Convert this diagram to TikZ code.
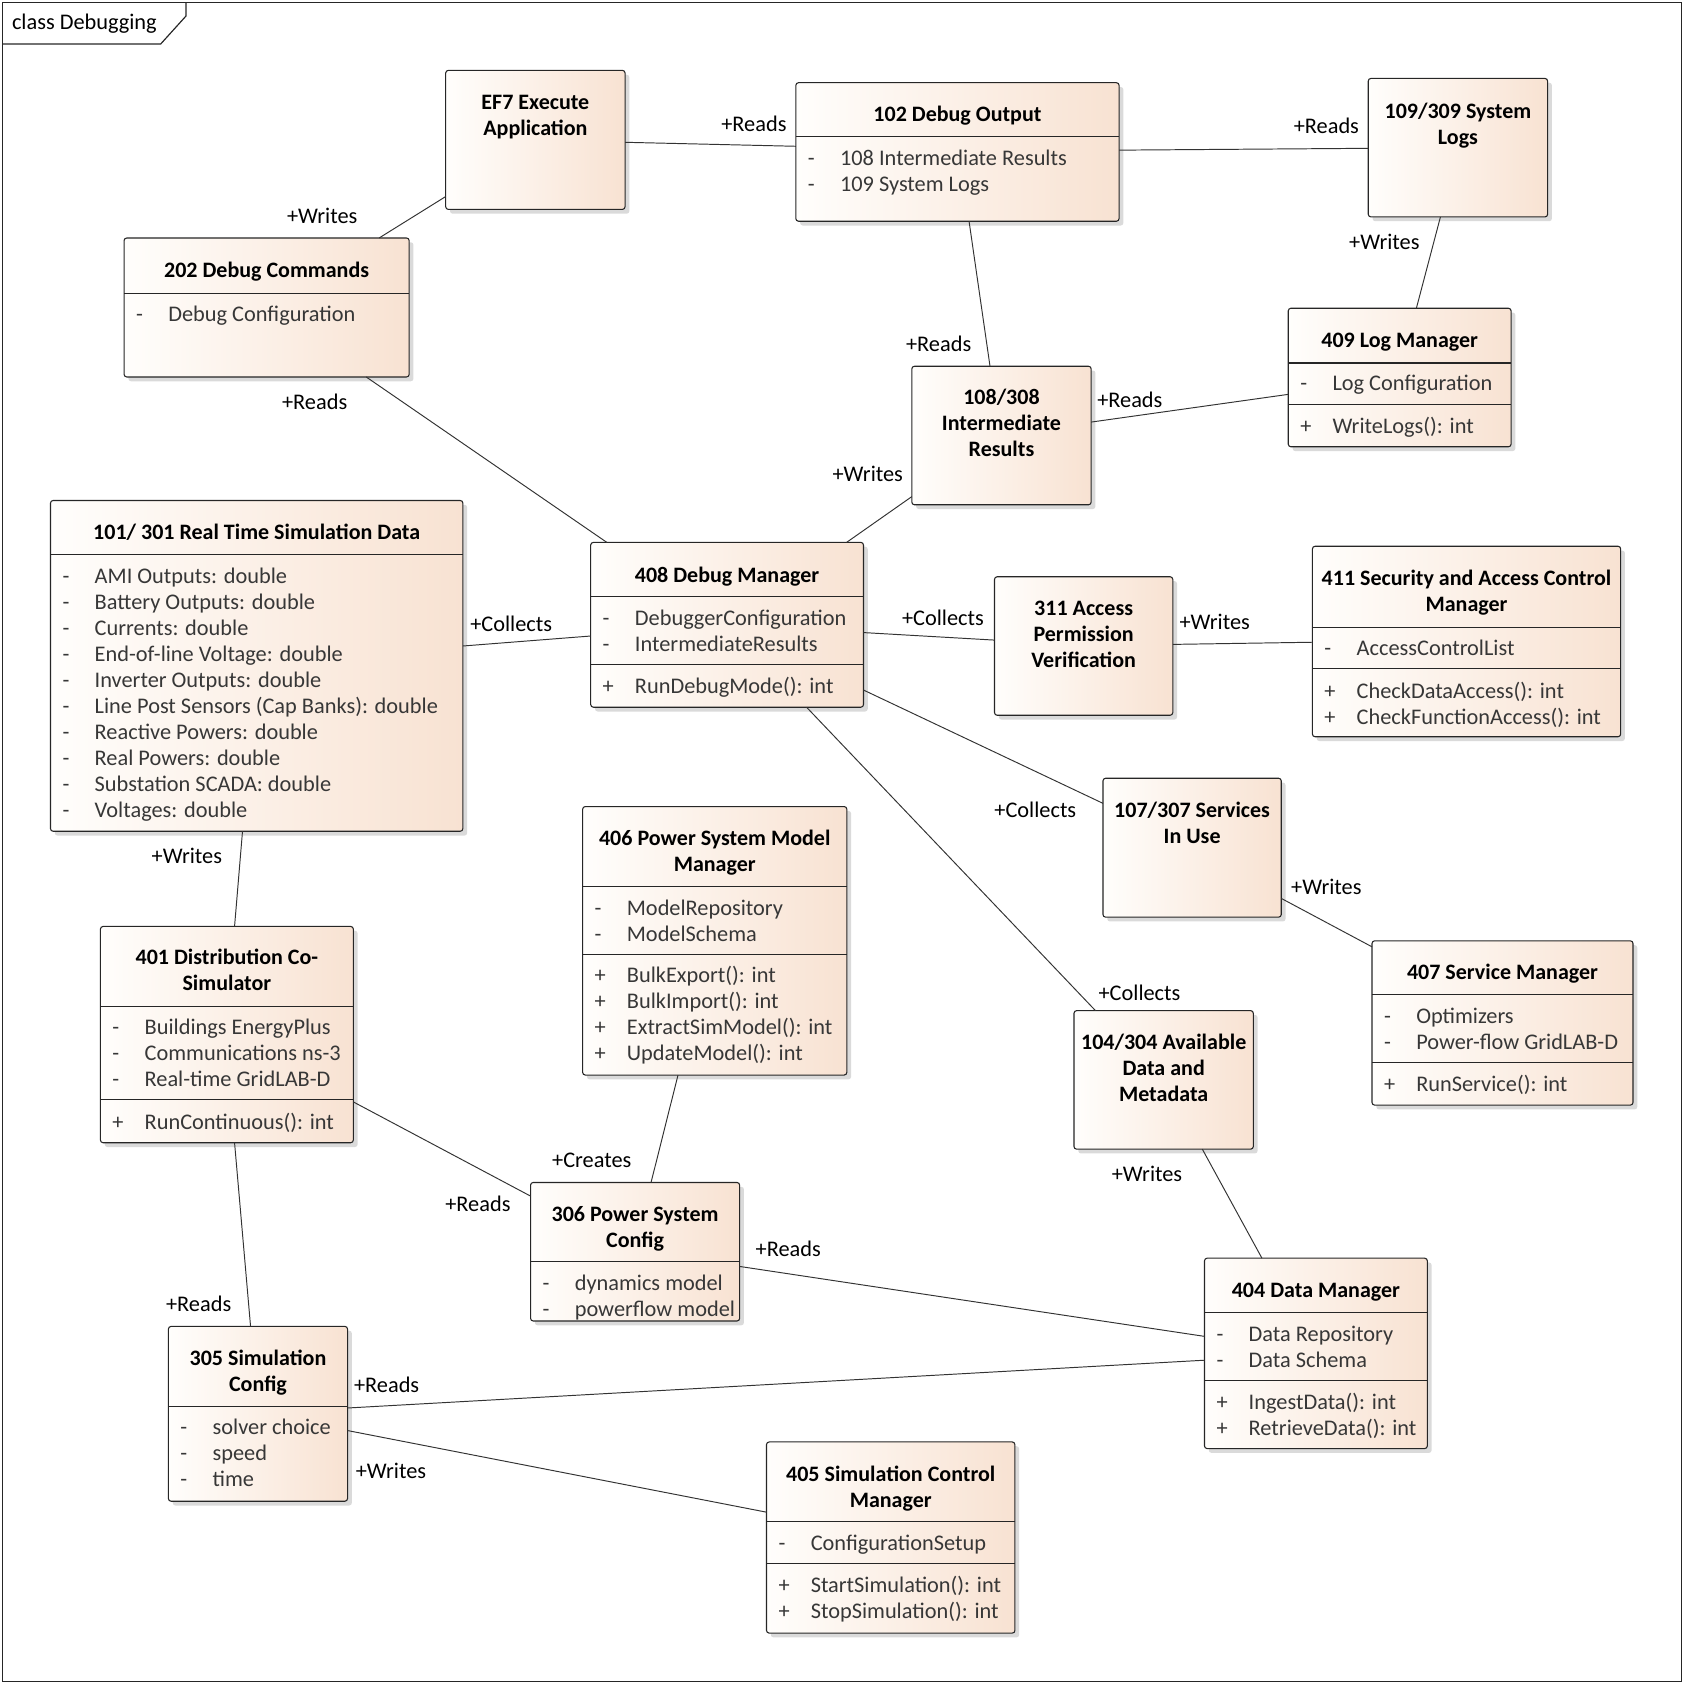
\documentclass[tikz,border=0pt]{standalone}
\usepackage{fontspec}
\setmainfont{Carlito}
\usetikzlibrary{shadows}
\definecolor{boxL}{RGB}{255,254,252}
\definecolor{boxR}{RGB}{248,226,210}
\definecolor{attrc}{RGB}{55,55,55}
\definecolor{shadowc}{RGB}{218,218,218}
\newcommand{\ufont}{\fontsize{20.5}{24.2}\selectfont}
\newcommand{\rfont}{\fontsize{20.8}{24.2}\selectfont}
\newcommand{\alist}[5]{%
  \node[attr] (#1d) at (#2,#3) {\begin{tabular}[t]{@{}l@{}}#4\end{tabular}};
  \node[attr] (#1t) at (#2+30,#3) {\begin{tabular}[t]{@{}l@{}}#5\end{tabular}};}
\newcommand{\tl}[4]{\node[ttl] (#1) at (#2,#3) {\begin{tabular}[t]{@{}c@{}}#4\end{tabular}};}
\begin{document}
\begin{tikzpicture}[x=1pt,y=-1pt,
 umlbox/.style={draw=black!85, line width=1pt, rounded corners=2.5pt, left color=boxL, right color=boxR, inner sep=0pt, outer sep=0pt, anchor=north west, drop shadow={shadow xshift=4pt, shadow yshift=-4pt, fill=shadowc, opacity=1}},
 ttl/.style={anchor=base, inner sep=0pt, font=\ufont\bfseries, text=black},
 attr/.style={anchor=base west, inner sep=0pt, font=\rfont, text=attrc},
 lbl/.style={anchor=base, inner sep=0pt, font=\rfont, text=black},
 sep/.style={draw=black!85, line width=1pt},
 conn/.style={draw=black!80, line width=0.9pt}
]
\useasboundingbox (0,0) rectangle (1568,1568);
% frame
\draw[line width=1.1pt, black!85] (2,2) rectangle (1566,1566);
\draw[line width=1.1pt, black!85] (2,41) -- (149.6,41) -- (173.2,14.9) -- (173.2,2);
\node[anchor=base west, inner sep=0pt, font=\rfont] (frametitle) at (11,27.5) {class Debugging};

% boxes
\node[umlbox, minimum width=167pt, minimum height=129.5pt] (ef7) at (415,65.5) {};
\node[umlbox, minimum width=301pt, minimum height=129pt] (b102) at (741,77) {};
\node[umlbox, minimum width=167pt, minimum height=129pt] (b109) at (1274,73) {};
\node[umlbox, minimum width=265.5pt, minimum height=129.4pt] (b202) at (115.5,221.6) {};
\node[umlbox, minimum width=207.5pt, minimum height=129pt] (b409) at (1199.5,287) {};
\node[umlbox, minimum width=167pt, minimum height=129pt] (b108) at (849,341) {};
\node[umlbox, minimum width=384pt, minimum height=308pt] (b101) at (47,466) {};
\node[umlbox, minimum width=254pt, minimum height=153.5pt] (b408) at (550,505) {};
\node[umlbox, minimum width=166pt, minimum height=129pt] (b311) at (926,537) {};
\node[umlbox, minimum width=287pt, minimum height=177.4pt] (b411) at (1222,508.6) {};
\node[umlbox, minimum width=166pt, minimum height=129.4pt] (b107) at (1027,724.6) {};
\node[umlbox, minimum width=246pt, minimum height=250pt] (b406) at (542.5,751) {};
\node[umlbox, minimum width=235.5pt, minimum height=201.4pt] (b401) at (93.5,862.6) {};
\node[umlbox, minimum width=194.7pt, minimum height=129pt] (b306) at (494,1101) {};
\node[umlbox, minimum width=166.8pt, minimum height=162.8pt] (b305) at (156.8,1235) {};
\node[umlbox, minimum width=231.3pt, minimum height=178pt] (b405) at (713.7,1342.6) {};
\node[umlbox, minimum width=243pt, minimum height=153pt] (b407) at (1277.5,876) {};
\node[umlbox, minimum width=167pt, minimum height=129pt] (b104) at (1000,941) {};
\node[umlbox, minimum width=207.5pt, minimum height=177.3pt] (b404) at (1121.5,1171.5) {};

% separators
\draw[sep] (741,127) -- (1042,127);
\draw[sep] (115.5,273) -- (381,273);
\draw[sep] (1199.5,338) -- (1407,338);
\draw[sep] (1199.5,376.5) -- (1407,376.5);
\draw[sep] (47,516) -- (431,516);
\draw[sep] (550,555) -- (804,555);
\draw[sep] (550,618.5) -- (804,618.5);
\draw[sep] (1222,584) -- (1509,584);
\draw[sep] (1222,622.5) -- (1509,622.5);
\draw[sep] (542.5,825) -- (788.5,825);
\draw[sep] (542.5,889) -- (788.5,889);
\draw[sep] (93.5,937) -- (329,937);
\draw[sep] (93.5,1024) -- (329,1024);
\draw[sep] (494,1175) -- (688.7,1175);
\draw[sep] (156.8,1310) -- (323.6,1310);
\draw[sep] (713.7,1417) -- (945,1417);
\draw[sep] (713.7,1456) -- (945,1456);
\draw[sep] (1277.5,926) -- (1520.5,926);
\draw[sep] (1277.5,989) -- (1520.5,989);
\draw[sep] (1121.5,1222) -- (1329,1222);
\draw[sep] (1121.5,1285.6) -- (1329,1285.6);

% titles
\tl{ef7t}{498.5}{102}{EF7 Execute\\Application}
\tl{b102t}{891.5}{113}{102 Debug Output}
\tl{b109t}{1357.5}{110}{109/309 System\\Logs}
\tl{b202t}{248.25}{258}{202 Debug Commands}
\tl{b409t}{1303.25}{324}{409 Log Manager}
\tl{b108t}{932.5}{377}{108/308\\Intermediate\\Results}
\tl{b101t}{239}{502}{101/ 301 Real Time Simulation Data}
\tl{b408t}{677}{542}{408 Debug Manager}
\tl{b311t}{1009}{573}{311 Access\\Permission\\Verification}
\tl{b411t}{1365.5}{545}{411 Security and Access Control\\Manager}
\tl{b107t}{1110}{761}{107/307 Services\\In Use}
\tl{b406t}{665.5}{787}{406 Power System Model\\Manager}
\tl{b401t}{211.25}{898}{401 Distribution Co-\\Simulator}
\tl{b306t}{591.35}{1137}{306 Power System\\Config}
\tl{b305t}{240.2}{1271}{305 Simulation\\Config}
\tl{b405t}{829.35}{1379}{405 Simulation Control\\Manager}
\tl{b407t}{1399}{912}{407 Service Manager}
\tl{b104t}{1083.5}{977}{104/304 Available\\Data and\\Metadata}
\tl{b404t}{1225.25}{1208}{404 Data Manager}

% attributes and operations
\alist{b102a}{752}{154}{-\\-}{108 Intermediate Results\\109 System Logs}
\alist{b202a}{126.5}{299}{-}{Debug Configuration}
\alist{b409a}{1210.5}{364}{-}{Log Configuration}
\alist{b409o}{1210.5}{404}{+}{WriteLogs(): int}
\alist{b101a}{58}{543}{-\\-\\-\\-\\-\\-\\-\\-\\-\\-}{AMI Outputs: double\\Battery Outputs: double\\Currents: double\\End-of-line Voltage: double\\Inverter Outputs: double\\Line Post Sensors (Cap Banks): double\\Reactive Powers: double\\Real Powers: double\\Substation SCADA: double\\Voltages: double}
\alist{b408a}{561}{582}{-\\-}{DebuggerConfiguration\\IntermediateResults}
\alist{b408o}{561}{646}{+}{RunDebugMode(): int}
\alist{b411a}{1233}{610}{-}{AccessControlList}
\alist{b411o}{1233}{650}{+\\+}{CheckDataAccess(): int\\CheckFunctionAccess(): int}
\alist{b406a}{553.5}{852}{-\\-}{ModelRepository\\ModelSchema}
\alist{b406o}{553.5}{915}{+\\+\\+\\+}{BulkExport(): int\\BulkImport(): int\\ExtractSimModel(): int\\UpdateModel(): int}
\alist{b401a}{104.5}{963}{-\\-\\-}{Buildings EnergyPlus\\Communications ns-3\\Real-time GridLAB-D}
\alist{b401o}{104.5}{1052}{+}{RunContinuous(): int}
\alist{b306a}{505}{1202}{-\\-}{dynamics model\\powerflow model}
\alist{b305a}{167.8}{1336}{-\\-\\-}{solver choice\\speed\\time}
\alist{b405a}{724.7}{1444}{-}{ConfigurationSetup}
\alist{b405o}{724.7}{1483}{+\\+}{StartSimulation(): int\\StopSimulation(): int}
\alist{b407a}{1288.5}{953}{-\\-}{Optimizers\\Power-flow GridLAB-D}
\alist{b407o}{1288.5}{1016}{+}{RunService(): int}
\alist{b404a}{1132.5}{1249}{-\\-}{Data Repository\\Data Schema}
\alist{b404o}{1132.5}{1312}{+\\+}{IngestData(): int\\RetrieveData(): int}

% connectors
\draw[conn] ([shift={(237.5,0)}]b202.north west) -- ([shift={(0,117.5)}]ef7.north west);
\draw[conn] ([shift={(167,67)}]ef7.north west) -- ([shift={(0,59.2)}]b102.north west);
\draw[conn] ([shift={(301,62.8)}]b102.north west) -- ([shift={(0,65.1)}]b109.north west);
\draw[conn] ([shift={(67.2,129)}]b109.north west) -- ([shift={(119.3,0)}]b409.north west);
\draw[conn] ([shift={(161.3,129)}]b102.north west) -- ([shift={(72.8,0)}]b108.north west);
\draw[conn] ([shift={(0,80.2)}]b409.north west) -- ([shift={(167,52)}]b108.north west);
\draw[conn] ([shift={(225.5,129.4)}]b202.north west) -- ([shift={(15,0)}]b408.north west);
\draw[conn] ([shift={(0,121.4)}]b108.north west) -- ([shift={(238.3,0)}]b408.north west);
\draw[conn] ([shift={(384,135.5)}]b101.north west) -- ([shift={(0,87.2)}]b408.north west);
\draw[conn] ([shift={(254,84)}]b408.north west) -- ([shift={(0,59)}]b311.north west);
\draw[conn] ([shift={(166,63)}]b311.north west) -- ([shift={(0,89.4)}]b411.north west);
\draw[conn] ([shift={(254,137.5)}]b408.north west) -- ([shift={(0,23.4)}]b107.north west);
\draw[conn] ([shift={(201,153.5)}]b408.north west) -- ([shift={(20,0)}]b104.north west);
\draw[conn] ([shift={(166,111.9)}]b107.north west) -- ([shift={(0,5.6)}]b407.north west);
\draw[conn] ([shift={(178.8,308)}]b101.north west) -- ([shift={(124.9,0)}]b401.north west);
\draw[conn] ([shift={(235.5,163.4)}]b401.north west) -- ([shift={(0,12.7)}]b306.north west);
\draw[conn] ([shift={(88.8,250)}]b406.north west) -- ([shift={(112.2,0)}]b306.north west);
\draw[conn] ([shift={(124.9,201.4)}]b401.north west) -- ([shift={(76.5,0)}]b305.north west);
\draw[conn] ([shift={(194.7,78.2)}]b306.north west) -- ([shift={(0,72.8)}]b404.north west);
\draw[conn] ([shift={(119.5,129)}]b104.north west) -- ([shift={(53.5,0)}]b404.north west);
\draw[conn] ([shift={(166.8,76)}]b305.north west) -- ([shift={(0,95)}]b404.north west);
\draw[conn] ([shift={(166.8,97)}]b305.north west) -- ([shift={(0,65.4)}]b405.north west);

% connector labels
\node[lbl] (l1) at (300,208) {+Writes};
\node[lbl] (l2) at (702,122) {+Reads};
\node[lbl] (l3) at (1235,124) {+Reads};
\node[lbl] (l4) at (1289,232) {+Writes};
\node[lbl] (l5) at (874,327) {+Reads};
\node[lbl] (l6) at (1052,379) {+Reads};
\node[lbl] (l7) at (293,381) {+Reads};
\node[lbl] (l8) at (808,448) {+Writes};
\node[lbl] (l9) at (476,588) {+Collects};
\node[lbl] (l10) at (878,582) {+Collects};
\node[lbl] (l11) at (1131,586) {+Writes};
\node[lbl] (l12) at (964,761) {+Collects};
\node[lbl] (l13) at (1061,932) {+Collects};
\node[lbl] (l14) at (1235,833) {+Writes};
\node[lbl] (l15) at (174,804) {+Writes};
\node[lbl] (l16) at (445,1128) {+Reads};
\node[lbl] (l17) at (551,1087) {+Creates};
\node[lbl] (l18) at (185,1221) {+Reads};
\node[lbl] (l19) at (734,1170) {+Reads};
\node[lbl] (l20) at (1068,1100) {+Writes};
\node[lbl] (l21) at (360,1297) {+Reads};
\node[lbl] (l22) at (364,1377) {+Writes};
\end{tikzpicture}
\end{document}
